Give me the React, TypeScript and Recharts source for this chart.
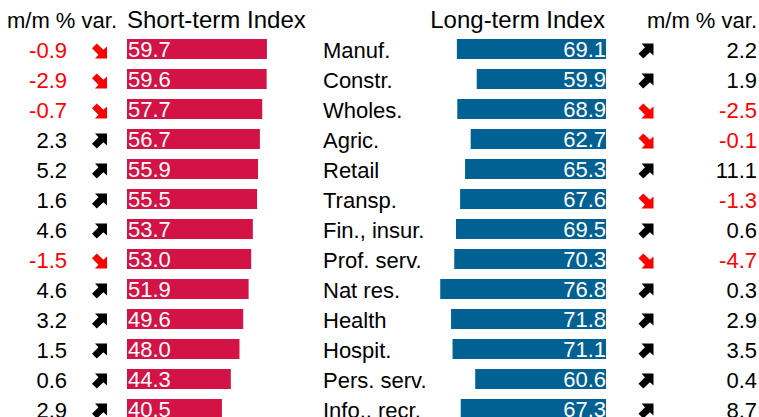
import React from "react";
import { ComposedChart, Bar, XAxis, YAxis, LabelList } from "recharts";

const sectors = ["Manuf.", "Constr.", "Wholes.", "Agric.", "Retail", "Transp.", "Fin., insur.", "Prof. serv.", "Nat res.", "Health", "Hospit.", "Pers. serv.", "Info., recr."];
const shortTerm = [59.7, 59.6, 57.7, 56.7, 55.9, 55.5, 53.7, 53.0, 51.9, 49.6, 48.0, 44.3, 40.5];
const shortVar = [-0.9, -2.9, -0.7, 2.3, 5.2, 1.6, 4.6, -1.5, 4.6, 3.2, 1.5, 0.6, 2.9];
const longTerm = [69.1, 59.9, 68.9, 62.7, 65.3, 67.6, 69.5, 70.3, 76.8, 71.8, 71.1, 60.6, 67.3];
const longVar = [2.2, 1.9, -2.5, -0.1, 11.1, -1.3, 0.6, -4.7, 0.3, 2.9, 3.5, 0.4, 8.7];

const headers = { varLeft: "m/m % var.", short: "Short-term Index", long: "Long-term Index", varRight: "m/m % var." };

const data = sectors.map((s, i) => ({ sector: s, st: shortTerm[i], lt: longTerm[i], sv: shortVar[i], lv: longVar[i] }));

const FONT = "'Liberation Sans', Arial, sans-serif";
const RED_BAR = "#D31245";
const BLUE_BAR = "#006192";
const RED_TXT = "#FF0000";

function Arrow({ cx, cy, up }: { cx: number; cy: number; up: boolean }) {
  const s = 15;
  const pts: [number, number][] = [[1, 0], [1, 0.8], [0.76, 0.58], [0.32, 1.0], [0, 0.68], [0.43, 0.25], [0.2, 0]];
  const p = pts
    .map(([u, v]) => {
      const vv = up ? v : 1 - v;
      return `${(cx - s / 2 + u * s).toFixed(2)},${(cy - s / 2 + vv * s).toFixed(2)}`;
    })
    .join(" ");
  return <polygon points={p} fill={up ? "#000" : RED_TXT} />;
}

function fmt(v: number) {
  return v.toFixed(1);
}

function ShortLabel(props: any) {
  const { x, y, width, height, value, index } = props;
  const left = Math.min(x, x + width);
  const cy = y + height / 2;
  const i = index as number;
  const sv = shortVar[i];
  const lv = longVar[i];
  return (
    <g fontFamily={FONT} fontSize={22}>
      <text x={left + 1} y={cy + 8} fill="#fff" textAnchor="start">{fmt(value)}</text>
      <text x={67} y={cy + 9} textAnchor="end" fill={sv < 0 ? RED_TXT : "#000"}>{fmt(sv)}</text>
      <Arrow cx={99.5} cy={cy + 2} up={sv >= 0} />
      <text x={323} y={cy + 9} textAnchor="start" fill="#000">{sectors[i]}</text>
      <Arrow cx={646} cy={cy + 2} up={lv >= 0} />
      <text x={757} y={cy + 9} textAnchor="end" fill={lv < 0 ? RED_TXT : "#000"}>{fmt(lv)}</text>
    </g>
  );
}

function LongLabel(props: any) {
  const { x, y, width, height, value } = props;
  const right = Math.max(x, x + width);
  return (
    <text x={right} y={y + height / 2 + 8} fill="#fff" fontFamily={FONT} fontSize={22} textAnchor="end">{fmt(value)}</text>
  );
}

export default function App() {
  return (
    <div style={{ position: "absolute", left: 0, top: 0, width: 759, height: 417, overflow: "hidden", background: "#fff" }}>
      <ComposedChart width={759} height={424} data={data} layout="vertical" barGap={-20} margin={{ top: 34, right: 0, bottom: 0, left: 0 }}>
        <XAxis xAxisId="st" type="number" domain={[-54.2, 269.7]} allowDataOverflow hide />
        <XAxis xAxisId="lt" type="number" domain={[-70.9, 280.8]} reversed allowDataOverflow hide />
        <YAxis type="category" dataKey="sector" width={0} hide />
        <Bar dataKey="st" xAxisId="st" fill={RED_BAR} barSize={20} isAnimationActive={false}>
          <LabelList dataKey="st" content={<ShortLabel />} />
        </Bar>
        <Bar dataKey="lt" xAxisId="lt" fill={BLUE_BAR} barSize={20} isAnimationActive={false}>
          <LabelList dataKey="lt" content={<LongLabel />} />
        </Bar>
        <text x={117} y={28} textAnchor="end" fontFamily={FONT} fontSize={22} fill="#000">{headers.varLeft}</text>
        <text x={127} y={28} textAnchor="start" fontFamily={FONT} fontSize={24} fill="#000">{headers.short}</text>
        <text x={605} y={28} textAnchor="end" fontFamily={FONT} fontSize={24} fill="#000">{headers.long}</text>
        <text x={757} y={28} textAnchor="end" fontFamily={FONT} fontSize={22} fill="#000">{headers.varRight}</text>
      </ComposedChart>
    </div>
  );
}
